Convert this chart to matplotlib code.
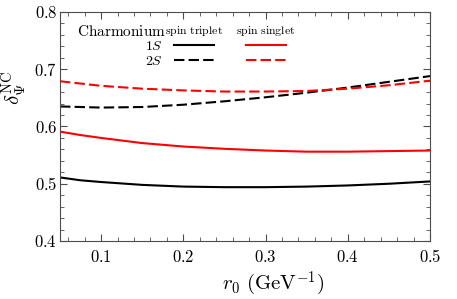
import numpy as np
import matplotlib
matplotlib.use("Agg")
import matplotlib.pyplot as plt
from matplotlib.ticker import MultipleLocator, FormatStrFormatter

plt.rcParams['mathtext.fontset'] = 'cm'
plt.rcParams['font.family'] = 'serif'
plt.rcParams['font.serif'] = ['DejaVu Serif']

# values
r0 = [0.05, 0.075, 0.10, 0.15, 0.20, 0.25, 0.30, 0.35, 0.40, 0.45, 0.50]
triplet_1s = [0.511, 0.506, 0.503, 0.498, 0.495, 0.494, 0.494, 0.495, 0.497, 0.500, 0.504]
singlet_1s = [0.591, 0.585, 0.580, 0.571, 0.565, 0.561, 0.558, 0.556, 0.556, 0.557, 0.558]
triplet_2s = [0.635, 0.634, 0.633, 0.634, 0.638, 0.644, 0.651, 0.659, 0.668, 0.678, 0.688]
singlet_2s = [0.679, 0.675, 0.671, 0.666, 0.663, 0.661, 0.661, 0.662, 0.666, 0.672, 0.680]
state_labels = ["$1S$", "$2S$"]

fig = plt.figure(figsize=(4.57, 2.99), dpi=100)
ax = fig.add_axes([0.1313, 0.194, 0.941 - 0.1313, 0.96 - 0.194])

dash = (0, (5, 2))
l1, = ax.plot(r0, triplet_1s, color='black', lw=1.5)
l2, = ax.plot(r0, triplet_2s, color='black', lw=1.5, ls=dash)
l3, = ax.plot(r0, singlet_1s, color='#ff0000', lw=1.5)
l4, = ax.plot(r0, singlet_2s, color='#ff0000', lw=1.5, ls=dash)

ax.set_xlim(0.05, 0.5)
ax.set_ylim(0.4, 0.8)
ax.xaxis.set_major_locator(MultipleLocator(0.1))
ax.xaxis.set_minor_locator(MultipleLocator(0.02))
ax.yaxis.set_major_locator(MultipleLocator(0.1))
ax.yaxis.set_minor_locator(MultipleLocator(0.02))
ax.xaxis.set_major_formatter(FormatStrFormatter('$%.1f$'))
ax.yaxis.set_major_formatter(FormatStrFormatter('$%.1f$'))
ax.tick_params(which='both', direction='in', top=True, right=True, color='0.3')
ax.tick_params(which='major', length=5, labelsize=12)
ax.tick_params(axis='x', which='major', pad=6)
ax.tick_params(axis='y', which='major', pad=2)
ax.tick_params(which='minor', length=3)
for s in ax.spines.values():
    s.set_color('0.3')

ax.set_xlabel(r'$r_0\ (\mathrm{GeV}^{-1})$', fontsize=15)
ax.xaxis.set_label_coords(0.576, -0.125)
ax.set_ylabel(r'$\delta_{\Psi}^{\mathrm{NC}}$', fontsize=15)
ax.yaxis.set_label_coords(-0.085, 0.67)

leg = ax.legend([l1, l2, l3, l4], state_labels + ["", ""], ncol=2,
                markerfirst=False, frameon=False, fontsize=10,
                handlelength=2.9, handletextpad=0.8, columnspacing=1.5,
                labelspacing=0.05, loc='upper left', bbox_to_anchor=(0.195, 0.937))

ax.text(0.045, 0.915, r'$\mathrm{Charmonium}$', transform=ax.transAxes,
        fontsize=11, va='center', ha='left')
ax.text(0.362, 0.915, r'$\mathrm{spin\ triplet}$', transform=ax.transAxes,
        fontsize=8.5, va='center', ha='center')
ax.text(0.557, 0.915, r'$\mathrm{spin\ singlet}$', transform=ax.transAxes,
        fontsize=8.5, va='center', ha='center')

fig.savefig('out.png', dpi=100)
